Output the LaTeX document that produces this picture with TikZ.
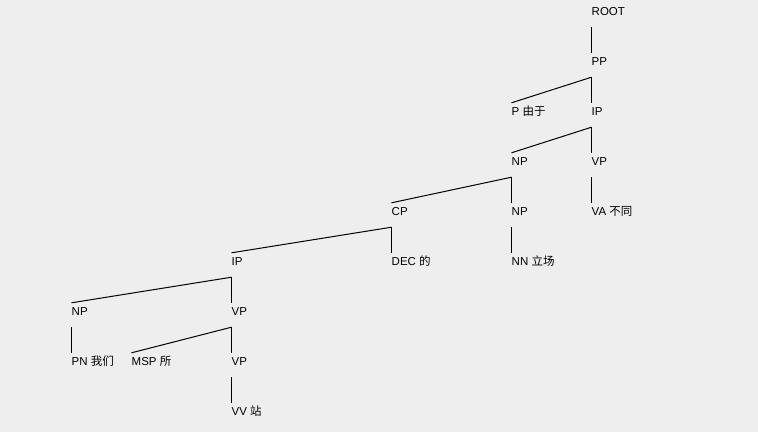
\documentclass[tikz,border=0pt]{standalone}
\usepackage{fontspec}
\setmainfont{Liberation Sans}
\newfontfamily\cjk{Noto Sans CJK SC}
\usepackage{tikz}
\definecolor{bgpanel}{RGB}{238,238,238}

\begin{document}
\begin{tikzpicture}[x=1pt, y=-1pt,
	lbl/.style={anchor=base west, inner sep=0pt, text height=12pt, text depth=12pt, font=\fontsize{11.5}{12}\selectfont}]
	% fond
	\fill[bgpanel] (0,0) rectangle (758,432);
	\useasboundingbox (0,0) rectangle (758,432);
	% etiquettes de l'arbre
	\node[lbl] (root) at (591.5,15) {ROOT};
	\node[lbl] (pp)   at (591.5,65) {PP};
	\node[lbl] (p)    at (511.5,115) {P {\cjk 由于}};
	\node[lbl] (ip)   at (591.5,115) {IP};
	\node[lbl] (np1)  at (511.5,165) {NP};
	\node[lbl] (vp1)  at (591.5,165) {VP};
	\node[lbl] (cp)   at (391.5,215) {CP};
	\node[lbl] (np2)  at (511.5,215) {NP};
	\node[lbl] (va)   at (591.5,215) {VA {\cjk 不同}};
	\node[lbl] (ip2)  at (231.5,265) {IP};
	\node[lbl] (dec)  at (391.5,265) {DEC {\cjk 的}};
	\node[lbl] (nn)   at (511.5,265) {NN {\cjk 立场}};
	\node[lbl] (np3)  at (71.5,315) {NP};
	\node[lbl] (vp2)  at (231.5,315) {VP};
	\node[lbl] (pn)   at (71.5,365) {PN {\cjk 我们}};
	\node[lbl] (msp)  at (131.5,365) {MSP {\cjk 所}};
	\node[lbl] (vp3)  at (231.5,365) {VP};
	\node[lbl] (vv)   at (231.5,415) {VV {\cjk 站}};
	% branches
	\foreach \a/\b in {root/pp, pp/p, pp/ip, ip/np1, ip/vp1, np1/cp, np1/np2, vp1/va,
		cp/ip2, cp/dec, np2/nn, ip2/np3, ip2/vp2, np3/pn, vp2/msp, vp2/vp3, vp3/vv} {
		\draw[line width=1pt] (\a.south west) -- (\b.north west);
	}
\end{tikzpicture}
\end{document}
